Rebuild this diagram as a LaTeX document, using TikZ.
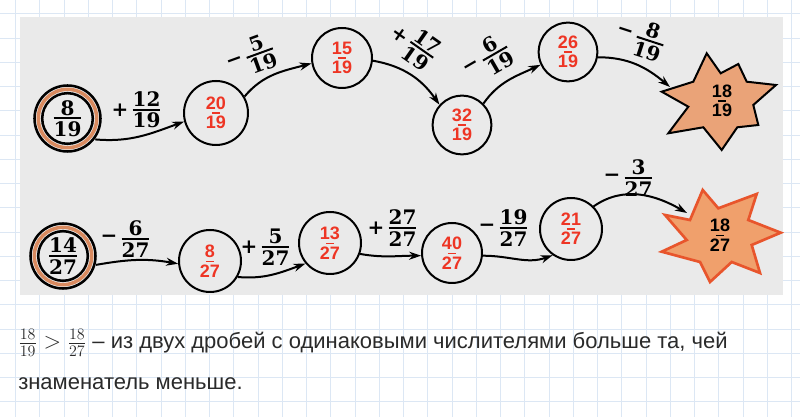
\documentclass[tikz,border=0pt]{standalone}
\usepackage{fontspec}
\setmainfont{Liberation Sans}
\newfontfamily\bookfont{DejaVu Serif}
\newfontfamily\redfont{Liberation Sans}
\usetikzlibrary{arrows.meta}
\definecolor{gridc}{HTML}{DCE7F4}
\definecolor{scanc}{HTML}{EAEAEA}
\definecolor{redtxt}{HTML}{EE3524}
\definecolor{ringc}{HTML}{D98A5F}
\definecolor{starfa}{HTML}{EAA378}
\definecolor{starfb}{HTML}{F0A06C}
\definecolor{staredge}{HTML}{E8552C}
\definecolor{txtc}{HTML}{2A2A2A}
\newcommand\bfr[2]{\vbox{\offinterlineskip\halign{\hfil##\hfil\cr#1\cr\noalign{\kern.1em\hrule height.1em\kern.12em}#2\cr}}}
\newcommand\sfr[2]{\vbox{\offinterlineskip\halign{\hfil##\hfil\cr#1\cr\noalign{\kern.16em}\vrule width.45em height.1em depth0pt\cr\noalign{\kern.12em}#2\cr}}}
\newcommand\lbl[3]{$\vcenter{\hbox{#1}}\mkern4mu\vcenter{\bfr{#2}{#3}}$}
\begin{document}
\begin{tikzpicture}[x=0.75pt,y=0.75pt,
  circ/.style={circle, draw=black, line width=1.5pt, inner sep=0pt,
    font=\redfont\bfseries\fontsize{13.5}{16}\selectfont, text=redtxt},
  dbl/.style={circle, inner sep=0pt, font=\bookfont\bfseries\fontsize{15}{18}\selectfont},
  lab/.style={font=\bookfont\bfseries\fontsize{15}{18}\selectfont, inner sep=0pt},
  starlab/.style={font=\redfont\bfseries\fontsize{13.5}{16}\selectfont, text=black, inner sep=0pt},
  arr/.style={line width=1.5pt, -{Stealth[length=9pt,width=6pt]}},
  body/.style={anchor=base west, font=\fontsize{16.5}{20}\selectfont, text=txtc, inner sep=0pt}]
\useasboundingbox (0,0) rectangle (800,417);
\fill[white] (0,0) rectangle (800,417);
\foreach \k in {0,...,32} \draw[gridc, line width=0.75pt] ({15.7+24.25*\k},0) -- ({15.7+24.25*\k},417);
\foreach \k in {0,...,16} \draw[gridc, line width=0.75pt] (0,{403.2-24.25*\k}) -- (800,{403.2-24.25*\k});
\fill[scanc] (20,122) rectangle (783,400);

% stars
\filldraw[fill=starfa, draw=black, line width=1.5pt, line join=miter]
  (706.7,363.7) -- (720.7,343.7) -- (738.3,353) -- (746.7,335.3) -- (776,332) -- (753.3,312)
  -- (758.3,292) -- (737.3,289.7) -- (721.7,267) -- (703.3,289.7) -- (668.3,283.7)
  -- (688.3,310.3) -- (661.7,325.3) -- (693.3,335.3) -- cycle;
\filldraw[fill=starfb, draw=staredge, line width=2pt, line join=miter]
  (702.7,227) -- (718.3,208.7) -- (756.7,223) -- (748.3,197) -- (780.7,184.3) -- (751.7,172)
  -- (760,144) -- (731.7,155) -- (710,135) -- (700,155) -- (661.7,165.3)
  -- (686.7,177) -- (665,202) -- (690,197) -- cycle;
\node[starlab] (S1) at (722,316) {\sfr{18}{19}};
\node[starlab] (S2) at (720,182) {\sfr{18}{27}};
\coordinate (s1in) at (670,330);
\coordinate (s2in) at (687,204);

% top row
\node[dbl, minimum size=51.75pt] (A) at (67.5,298.5) {\bfr{8}{19}};
\draw[line width=1.9pt] (A) circle[radius=33];
\draw[ringc, line width=2.6pt] (A) circle[radius=29.2];
\draw[line width=1.9pt] (A) circle[radius=25.3];
\node[circ, minimum size=48pt] (B) at (216,304) {\sfr{20}{19}};
\node[circ, minimum size=45pt] (C) at (342,359) {\sfr{15}{19}};
\node[circ, minimum size=44pt] (D) at (462,292) {\sfr{32}{19}};
\node[circ, minimum size=44pt] (E) at (568,365) {\sfr{26}{19}};

% bottom row
\node[dbl, minimum size=51pt] (F) at (63,161) {\bfr{14}{27}};
\draw[line width=1.9pt] (F) circle[radius=32.5];
\draw[ringc, line width=2.6pt] (F) circle[radius=28.7];
\draw[line width=1.9pt] (F) circle[radius=24.8];
\node[circ, minimum size=46.5pt] (G) at (210,156) {\sfr{8}{27}};
\node[circ, minimum size=46.5pt] (H) at (330,174) {\sfr{13}{27}};
\node[circ, minimum size=45pt] (I) at (452,164) {\sfr{40}{27}};
\node[circ, minimum size=46.5pt] (J) at (571,188) {\sfr{21}{27}};

% labels
\node[lab] (L1) at (136,307) {\lbl{+}{12}{19}};
\node[lab, rotate=20] (L2) at (250,360) {\lbl{−}{5}{19}};
\node[lab, rotate=-35] (L3) at (413,373) {\lbl{+}{17}{19}};
\node[lab, rotate=30] (L4) at (486,358) {\lbl{−}{6}{19}};
\node[lab, rotate=-18] (L5) at (640,379) {\lbl{−}{8}{19}};
\node[lab] (L6) at (125,178) {\lbl{−}{6}{27}};
\node[lab] (L7) at (265,170) {\lbl{+}{5}{27}};
\node[lab] (L8) at (392,189) {\lbl{+}{27}{27}};
\node[lab] (L9) at (503,189) {\lbl{−}{19}{27}};
\node[lab] (L10) at (628,239) {\lbl{−}{3}{27}};

% arrows
\draw[arr] (A.-37) to[out=-5,in=200] (B.195);
\draw[arr] (B.30) to[out=50,in=195] (C.190);
\draw[arr] (C.-5) to[out=-10,in=125] (D.138);
\draw[arr] (D.45) to[out=55,in=205] (E.205);
\draw[arr] (E.-10) to[out=0,in=140] (s1in);
\draw[arr] (F.-15) to[out=10,in=170] (G.185);
\draw[arr] (G.-30) to[out=-5,in=200] (H.220);
\draw[arr] (H.-20) to[out=-10,in=180] (I.185);
\draw[arr] (I.-5) to[out=0,in=200] (J.235);
\draw[arr] (J.45) to[out=35,in=150] (s2in);

% text
\node[body] (T1) at (18,68) {$\frac{18}{19} > \frac{18}{27}$ – из двух дробей с одинаковыми числителями больше та, чей};
\node[body] (T2) at (18,27) {знаменатель меньше.};
\end{tikzpicture}
\end{document}
